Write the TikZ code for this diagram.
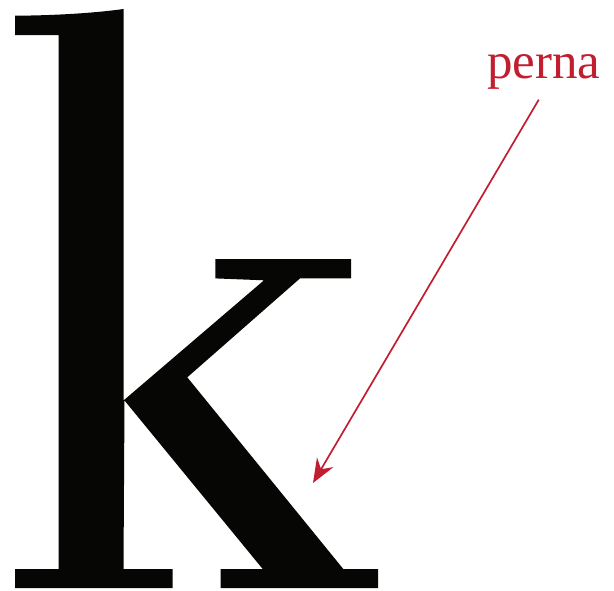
\documentclass[tikz,border=0pt]{standalone}
\usepackage{fontspec}
\setmainfont{Liberation Serif}
\usepackage{xcolor}
\usepackage{tikz}
\usetikzlibrary{positioning, arrows.meta}
\definecolor{kInk}{HTML}{060604}
\definecolor{kRed}{HTML}{C11F30}
\tikzset{
  letra/.style={
    fill=kInk, draw=none
  },
  etiqueta/.style={
    text=kRed, inner sep=2pt,
    font=\fontsize{51}{57}\selectfont
  },
  seta/.style={
    -{Stealth[length=24pt, width=19pt, inset=8pt]},
    kRed, line width=1.7pt
  }
}

\begin{document}
\begin{tikzpicture}[x=1pt, y=-1pt]
      \useasboundingbox (0,0) rectangle (614,590);
      % glyph outline
      \fill[letra] (15,15.7) .. controls (55,15.5) and (95,13) .. (123.5,9)
        -- (123.5,400.5) -- (264,280.3) -- (215.3,278.4) -- (215.3,259)
        -- (351,259) -- (351,278.4) -- (300,278.4) -- (187.3,377.3)
        -- (343.3,569) -- (378,569) -- (378,588) -- (220.7,588)
        -- (220.7,569) -- (262.7,569) -- (124.5,400.5) -- (123.5,569)
        -- (172.7,569) -- (172.7,588) -- (15,588) -- (15,569)
        -- (58.7,569) -- (58.7,35) -- (15,35) -- cycle;
      \node[etiqueta, anchor=base west] (perna) at (485,78) {perna};
      \coordinate (ponta) at (313,483);
      \draw[seta, shorten <=10pt] (perna.south) -- (ponta);
    \end{tikzpicture}
\end{document}
